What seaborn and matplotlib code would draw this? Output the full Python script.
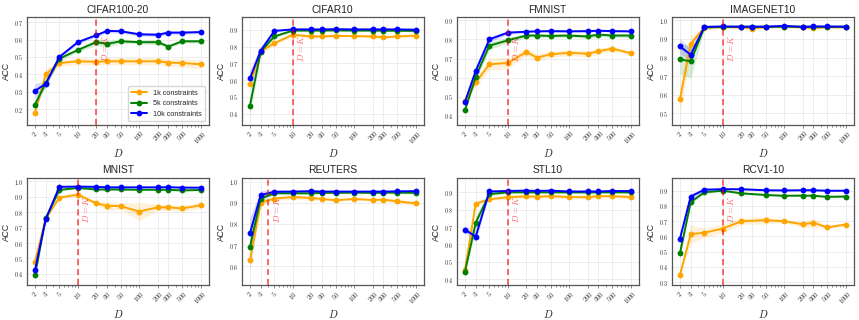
import numpy as np
import pandas as pd
import matplotlib
matplotlib.use("Agg")
import matplotlib.pyplot as plt
import matplotlib.transforms as mtransforms
from matplotlib.ticker import FixedLocator, NullFormatter, MultipleLocator, FuncFormatter
import seaborn as sns

# x values (number of dimensions D)
D_all = [2, 3, 5, 10, 20, 30, 50, 100, 200, 300, 500, 1000]
D_rcv = [2, 3, 5, 10, 20, 50, 100, 200, 300, 500, 1000]

series_names = ["1k constraints", "5k constraints", "10k constraints"]
series_colors = ["orange", "green", "blue"]

# CIFAR100-20
cifar100_1k = [0.18, 0.40, 0.465, 0.475, 0.472, 0.475, 0.475, 0.475, 0.475, 0.468, 0.465, 0.458]
cifar100_5k = [0.225, 0.35, 0.49, 0.54, 0.585, 0.575, 0.59, 0.585, 0.585, 0.56, 0.59, 0.59]
cifar100_10k = [0.305, 0.345, 0.50, 0.585, 0.625, 0.65, 0.648, 0.63, 0.628, 0.64, 0.64, 0.643]
cifar100_1k_sd = [0.01, 0.03, 0.02, 0.02, 0.02, 0.02, 0.02, 0.02, 0.02, 0.02, 0.025, 0.025]
cifar100_5k_sd = [0.03, 0.02, 0.015, 0.01, 0.02, 0.02, 0.01, 0.01, 0.015, 0.01, 0.01, 0.01]
cifar100_10k_sd = [0.04, 0.02, 0.01, 0.01, 0.01, 0.01, 0.01, 0.01, 0.01, 0.01, 0.01, 0.01]

# CIFAR10
cifar10_1k = [0.575, 0.77, 0.82, 0.87, 0.86, 0.86, 0.863, 0.862, 0.86, 0.855, 0.86, 0.865]
cifar10_5k = [0.447, 0.77, 0.86, 0.895, 0.895, 0.895, 0.896, 0.895, 0.895, 0.894, 0.894, 0.893]
cifar10_10k = [0.61, 0.775, 0.893, 0.902, 0.902, 0.902, 0.903, 0.902, 0.902, 0.902, 0.902, 0.90]
cifar10_1k_sd = [0.03, 0.02, 0.01, 0.01, 0.01, 0.01, 0.005, 0.005, 0.01, 0.01, 0.005, 0.01]
cifar10_5k_sd = [0.06, 0.02, 0.01, 0.005, 0.005, 0.005, 0.005, 0.005, 0.005, 0.005, 0.005, 0.005]
cifar10_10k_sd = [0.05, 0.03, 0.005, 0.005, 0.005, 0.005, 0.005, 0.005, 0.005, 0.005, 0.005, 0.005]

# FMNIST
fmnist_1k = [0.48, 0.575, 0.67, 0.677, 0.734, 0.705, 0.722, 0.73, 0.725, 0.738, 0.752, 0.728]
fmnist_5k = [0.43, 0.605, 0.767, 0.795, 0.82, 0.82, 0.818, 0.82, 0.815, 0.825, 0.82, 0.82]
fmnist_10k = [0.473, 0.635, 0.80, 0.835, 0.84, 0.842, 0.843, 0.842, 0.843, 0.845, 0.843, 0.842]
fmnist_1k_sd = [0.01, 0.02, 0.03, 0.03, 0.02, 0.02, 0.015, 0.015, 0.015, 0.015, 0.015, 0.01]
fmnist_5k_sd = [0.01, 0.02, 0.02, 0.015, 0.01, 0.01, 0.01, 0.01, 0.01, 0.01, 0.01, 0.01]
fmnist_10k_sd = [0.01, 0.03, 0.015, 0.01, 0.005, 0.005, 0.005, 0.005, 0.005, 0.005, 0.005, 0.005]

# IMAGENET10
imagenet_1k = [0.575, 0.875, 0.96, 0.963, 0.962, 0.955, 0.963, 0.965, 0.962, 0.958, 0.962, 0.962]
imagenet_5k = [0.79, 0.78, 0.962, 0.965, 0.965, 0.965, 0.965, 0.966, 0.965, 0.965, 0.965, 0.965]
imagenet_10k = [0.86, 0.815, 0.965, 0.967, 0.966, 0.966, 0.966, 0.97, 0.965, 0.967, 0.967, 0.966]
imagenet_1k_sd = [0.08, 0.04, 0.01, 0.005, 0.005, 0.005, 0.005, 0.005, 0.005, 0.005, 0.005, 0.005]
imagenet_5k_sd = [0.08, 0.09, 0.01, 0.005, 0.005, 0.005, 0.005, 0.005, 0.005, 0.005, 0.005, 0.005]
imagenet_10k_sd = [0.04, 0.03, 0.005, 0.005, 0.005, 0.005, 0.005, 0.005, 0.005, 0.005, 0.005, 0.005]

# MNIST
mnist_1k = [0.475, 0.76, 0.895, 0.915, 0.858, 0.842, 0.84, 0.805, 0.832, 0.832, 0.825, 0.845]
mnist_5k = [0.39, 0.76, 0.945, 0.958, 0.948, 0.948, 0.948, 0.946, 0.946, 0.946, 0.942, 0.945]
mnist_10k = [0.423, 0.755, 0.965, 0.967, 0.965, 0.962, 0.962, 0.962, 0.962, 0.963, 0.96, 0.96]
mnist_1k_sd = [0.01, 0.01, 0.01, 0.01, 0.01, 0.03, 0.02, 0.06, 0.02, 0.02, 0.02, 0.02]
mnist_5k_sd = [0.005, 0.005, 0.005, 0.005, 0.005, 0.005, 0.005, 0.005, 0.005, 0.005, 0.005, 0.005]
mnist_10k_sd = [0.005, 0.005, 0.005, 0.005, 0.005, 0.005, 0.005, 0.005, 0.005, 0.005, 0.005, 0.005]

# REUTERS
reuters_1k = [0.627, 0.90, 0.92, 0.927, 0.923, 0.918, 0.912, 0.918, 0.913, 0.915, 0.907, 0.897]
reuters_5k = [0.69, 0.92, 0.945, 0.945, 0.945, 0.947, 0.947, 0.948, 0.947, 0.948, 0.948, 0.947]
reuters_10k = [0.755, 0.937, 0.952, 0.953, 0.955, 0.953, 0.953, 0.953, 0.953, 0.953, 0.954, 0.955]
reuters_1k_sd = [0.05, 0.01, 0.01, 0.01, 0.01, 0.005, 0.005, 0.005, 0.005, 0.005, 0.01, 0.01]
reuters_5k_sd = [0.1, 0.02, 0.005, 0.005, 0.005, 0.005, 0.005, 0.005, 0.005, 0.005, 0.005, 0.005]
reuters_10k_sd = [0.08, 0.02, 0.01, 0.005, 0.005, 0.005, 0.005, 0.005, 0.005, 0.005, 0.005, 0.005]

# STL10
stl_1k = [0.45, 0.835, 0.86, 0.872, 0.877, 0.875, 0.878, 0.873, 0.872, 0.878, 0.878, 0.873]
stl_5k = [0.44, 0.725, 0.89, 0.90, 0.90, 0.90, 0.90, 0.90, 0.90, 0.90, 0.90, 0.90]
stl_10k = [0.685, 0.645, 0.905, 0.908, 0.91, 0.908, 0.91, 0.905, 0.905, 0.905, 0.908, 0.907]
stl_1k_sd = [0.01, 0.015, 0.01, 0.01, 0.01, 0.01, 0.01, 0.01, 0.01, 0.01, 0.01, 0.01]
stl_5k_sd = [0.01, 0.04, 0.01, 0.005, 0.005, 0.005, 0.005, 0.005, 0.005, 0.005, 0.005, 0.005]
stl_10k_sd = [0.02, 0.03, 0.01, 0.005, 0.005, 0.005, 0.005, 0.005, 0.005, 0.005, 0.005, 0.005]

# RCV1-10 (no D=30 run)
rcv_1k = [0.347, 0.615, 0.625, 0.652, 0.70, 0.707, 0.70, 0.68, 0.69, 0.66, 0.678]
rcv_5k = [0.49, 0.825, 0.89, 0.90, 0.883, 0.872, 0.867, 0.868, 0.867, 0.86, 0.862]
rcv_10k = [0.585, 0.862, 0.907, 0.91, 0.91, 0.903, 0.902, 0.903, 0.903, 0.90, 0.90]
rcv_1k_sd = [0.01, 0.06, 0.03, 0.03, 0.02, 0.025, 0.01, 0.02, 0.03, 0.01, 0.01]
rcv_5k_sd = [0.04, 0.01, 0.01, 0.005, 0.005, 0.005, 0.005, 0.005, 0.005, 0.005, 0.005]
rcv_10k_sd = [0.01, 0.02, 0.01, 0.005, 0.005, 0.005, 0.005, 0.005, 0.005, 0.005, 0.005]

titles = ["CIFAR100-20", "CIFAR10", "FMNIST", "IMAGENET10",
          "MNIST", "REUTERS", "STL10", "RCV1-10"]
n_classes = [20, 10, 10, 10, 10, 4, 10, 10]
y_limits = [(0.11, 0.73), (0.334, 0.976), (0.354, 0.917), (0.439, 1.018),
            (0.325, 1.025), (0.509, 1.019), (0.363, 0.985), (0.279, 0.986)]

panels = [
    (D_all, [cifar100_1k, cifar100_5k, cifar100_10k], [cifar100_1k_sd, cifar100_5k_sd, cifar100_10k_sd]),
    (D_all, [cifar10_1k, cifar10_5k, cifar10_10k], [cifar10_1k_sd, cifar10_5k_sd, cifar10_10k_sd]),
    (D_all, [fmnist_1k, fmnist_5k, fmnist_10k], [fmnist_1k_sd, fmnist_5k_sd, fmnist_10k_sd]),
    (D_all, [imagenet_1k, imagenet_5k, imagenet_10k], [imagenet_1k_sd, imagenet_5k_sd, imagenet_10k_sd]),
    (D_all, [mnist_1k, mnist_5k, mnist_10k], [mnist_1k_sd, mnist_5k_sd, mnist_10k_sd]),
    (D_all, [reuters_1k, reuters_5k, reuters_10k], [reuters_1k_sd, reuters_5k_sd, reuters_10k_sd]),
    (D_all, [stl_1k, stl_5k, stl_10k], [stl_1k_sd, stl_5k_sd, stl_10k_sd]),
    (D_rcv, [rcv_1k, rcv_5k, rcv_10k], [rcv_1k_sd, rcv_5k_sd, rcv_10k_sd]),
]

sns.set_theme(style="whitegrid")
plt.rcParams["font.family"] = ["Liberation Sans", "DejaVu Sans"]
plt.rcParams["mathtext.fontset"] = "cm"
plt.rcParams["axes.edgecolor"] = "#555555"
plt.rcParams["axes.linewidth"] = 0.9
plt.rcParams["grid.color"] = "#e6e6e6"
plt.rcParams["grid.linewidth"] = 0.5

fig, axes = plt.subplots(2, 4, figsize=(8.59, 3.2), dpi=100)
fig.subplots_adjust(left=0.031, right=0.994, top=0.947, bottom=0.108, wspace=0.18, hspace=0.49)

tick_fmt = FuncFormatter(lambda v, p: f"${v:.1f}$")

for i, ax in enumerate(axes.flat):
    xs, means, sds = panels[i]
    frames = []
    for name, m in zip(series_names, means):
        frames.append(pd.DataFrame({"D": xs, "ACC": m, "series": name}))
    df = pd.concat(frames, ignore_index=True)

    # shaded spread around each mean curve
    for m, s, c in zip(means, sds, series_colors):
        m = np.array(m)
        s = np.array(s)
        ax.fill_between(xs, m - s, m + s, color=c, alpha=0.15, linewidth=0)

    sns.lineplot(data=df, x="D", y="ACC", hue="series", palette=series_colors,
                 marker="o", markersize=4.2, markeredgewidth=0, linewidth=1.4,
                 legend=(i == 0), ax=ax)

    ax.set_xscale("log")
    ax.xaxis.set_major_locator(FixedLocator(D_all))
    ax.set_xticklabels([f"${d}$" for d in D_all], rotation=45, ha="center", fontsize=4.8)
    ax.xaxis.set_minor_formatter(NullFormatter())
    ax.tick_params(axis="x", which="both", bottom=True, length=2, width=0.5, pad=0.8, color="#555555")
    ax.tick_params(axis="x", which="minor", length=1.2)
    ax.tick_params(axis="y", left=False, length=0, pad=2.4, labelsize=4.3)
    ax.yaxis.set_major_locator(MultipleLocator(0.1))
    ax.yaxis.set_major_formatter(tick_fmt)
    ax.grid(True, which="major")
    ax.grid(False, which="minor")
    ax.set_ylim(*y_limits[i])

    # D = K marker
    k = n_classes[i]
    ax.axvline(k, color="red", alpha=0.75, linestyle=(0, (4, 2.5)), linewidth=1.1)
    trans = mtransforms.blended_transform_factory(ax.transData, ax.transAxes)
    ax.text(k * 1.13, 0.84, "$D=K$", rotation=90, color="red", alpha=0.6,
            fontsize=6.5, va="top", ha="left", transform=trans)

    ax.set_title(titles[i], fontsize=7.4, pad=3)
    ax.set_ylabel("ACC", fontsize=6.2, labelpad=2)
    ax.set_xlabel("$D$", fontsize=7.5, labelpad=1)

    if i == 0:
        ax.legend(loc="lower right", fontsize=5.2, frameon=True, borderpad=0.5,
                  handlelength=2.2, labelspacing=0.45, title=None)

fig.savefig("out.png", dpi=100)
